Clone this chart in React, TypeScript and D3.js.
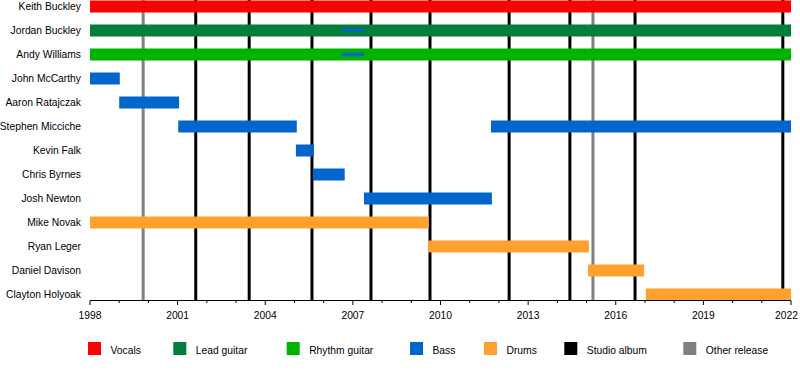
import React from "react";
import * as d3 from "d3";

const members = [
  "Keith Buckley", "Jordan Buckley", "Andy Williams", "John McCarthy", "Aaron Ratajczak",
  "Stephen Micciche", "Kevin Falk", "Chris Byrnes", "Josh Newton", "Mike Novak",
  "Ryan Leger", "Daniel Davison", "Clayton Holyoak",
];

const roles = ["Vocals", "Lead guitar", "Rhythm guitar", "Bass", "Drums"];
const roleColors = ["#ff0000", "#007f3a", "#00b300", "#0066cc", "#ffa12e"];

// [member, role, start, end]
const stints: [string, string, number, number][] = [
  ["Keith Buckley", "Vocals", 1998.0, 2022.0],
  ["Jordan Buckley", "Lead guitar", 1998.0, 2022.0],
  ["Andy Williams", "Rhythm guitar", 1998.0, 2022.0],
  ["John McCarthy", "Bass", 1998.0, 1999.02],
  ["Aaron Ratajczak", "Bass", 1999.0, 2001.05],
  ["Stephen Micciche", "Bass", 2001.02, 2005.08],
  ["Stephen Micciche", "Bass", 2011.73, 2022.0],
  ["Kevin Falk", "Bass", 2005.05, 2005.67],
  ["Chris Byrnes", "Bass", 2005.63, 2006.72],
  ["Josh Newton", "Bass", 2007.38, 2011.76],
  ["Mike Novak", "Drums", 1998.0, 2009.6],
  ["Ryan Leger", "Drums", 2009.57, 2015.08],
  ["Daniel Davison", "Drums", 2015.05, 2016.97],
  ["Clayton Holyoak", "Drums", 2017.03, 2022.0],
];

// secondary (thin) stints
const extraStints: [string, string, number, number][] = [
  ["Jordan Buckley", "Bass", 2006.63, 2007.38],
  ["Andy Williams", "Bass", 2006.63, 2007.38],
];

const studioAlbums = [2001.62, 2003.45, 2005.6, 2007.62, 2009.64, 2012.35, 2014.43, 2016.66, 2021.72];
const otherReleases = [1999.82, 2015.22];

const legendLabels = ["Vocals", "Lead guitar", "Rhythm guitar", "Bass", "Drums", "Studio album", "Other release"];
const legendColors = [...roleColors, "#000000", "#808080"];
const legendX = [88, 173.3, 286.7, 410, 484, 564.3, 683.3];

const yearStart = 1998;
const yearEnd = 2022;

export default function App() {
  const W = 800, H = 380;
  const font = "'Liberation Sans', Arial, sans-serif";
  const x = d3.scaleLinear().domain([yearStart, yearEnd]).range([90, 791]);
  const y = d3.scalePoint<string>().domain(members).range([6.5, 294.5]);
  const color = d3.scaleOrdinal<string, string>().domain(roles).range(roleColors);
  const axisY = 300.5;
  const barH = 12;
  const years = d3.range(yearStart, yearEnd + 1);
  const majors = years.filter((yy) => (yy - yearStart) % 3 === 0);

  return (
    <svg width={W} height={H} style={{ position: "absolute", left: 0, top: 0, background: "#fff" }} fontFamily={font}>
      <rect width={W} height={H} fill="#fff" />
      {otherReleases.map((d, i) => (
        <line key={"o" + i} x1={x(d)} x2={x(d)} y1={0} y2={axisY} stroke="#808080" strokeWidth={3} />
      ))}
      {studioAlbums.map((d, i) => (
        <line key={"s" + i} x1={x(d)} x2={x(d)} y1={0} y2={axisY} stroke="#000" strokeWidth={3} />
      ))}
      {stints.map(([m, r, s, e], i) => (
        <rect key={"b" + i} x={x(s)} y={(y(m) as number) - barH / 2} width={x(e) - x(s)} height={barH} fill={color(r)} />
      ))}
      {extraStints.map(([m, r, s, e], i) => (
        <rect key={"e" + i} x={x(s)} y={(y(m) as number) - 1.7} width={x(e) - x(s)} height={3.4} fill={color(r)} />
      ))}
      {members.map((m) => (
        <text key={m} x={81} y={(y(m) as number) + 3.8} textAnchor="end" fontSize={10.3} fill="#000">{m}</text>
      ))}
      <line x1={x(yearStart)} x2={x(yearEnd)} y1={axisY} y2={axisY} stroke="#000" strokeWidth={1} />
      {years.map((yy) => (
        <line key={"t" + yy} x1={x(yy)} x2={x(yy)} y1={axisY} y2={axisY + (majors.includes(yy) ? 4.5 : 2.5)} stroke="#000" strokeWidth={1} />
      ))}
      {majors.map((yy) => (
        <text key={"l" + yy} x={Math.min(x(yy), 786.5)} y={318.5} textAnchor="middle" fontSize={10.3} fill="#000">{yy}</text>
      ))}
      {legendLabels.map((l, i) => (
        <g key={l}>
          <rect x={legendX[i]} y={342} width={13} height={13} fill={legendColors[i]} />
          <text x={legendX[i] + 22.5} y={353.5} fontSize={10.3} fill="#000">{l}</text>
        </g>
      ))}
    </svg>
  );
}
